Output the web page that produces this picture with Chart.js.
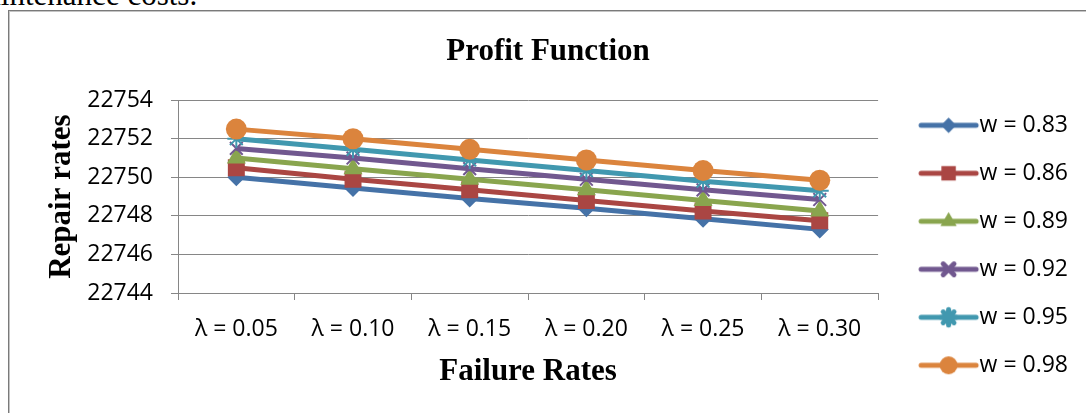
<!DOCTYPE html>
<html>
<head>
<meta charset="utf-8">
<script src="https://cdn.jsdelivr.net/npm/chart.js@4/dist/chart.umd.min.js"></script>
<style>
  html, body { margin:0; padding:0; background:#fff; width:1086px; height:413px; overflow:hidden; }
  #doctext { position:absolute; left:-37px; top:-21px; font-family:"Liberation Serif", serif; font-size:31px; line-height:31px; color:#000; white-space:nowrap; }
  #frame { position:absolute; left:8px; top:10px; width:1200px; height:600px; border:1px solid #7a7a7a; box-shadow: inset 1px 1px 0 #c4c4c4; }
  #wrap { position:absolute; left:0; top:0; width:1086px; height:413px; }
</style>
</head>
<body>
<div id="doctext">maintenance costs.</div>
<div id="frame"></div>
<div id="wrap"><canvas id="chart" width="1086" height="413"></canvas></div>
<script>
// ------------------ DATA ------------------
const categories = ["λ = 0.05", "λ = 0.10", "λ = 0.15", "λ = 0.20", "λ = 0.25", "λ = 0.30"];
const seriesNames = ["w = 0.83", "w = 0.86", "w = 0.89", "w = 0.92", "w = 0.95", "w = 0.98"];
const w083 = [22750.0, 22749.45, 22748.9, 22748.4, 22747.85, 22747.3];
const w086 = [22750.5, 22749.9, 22749.35, 22748.8, 22748.25, 22747.75];
const w089 = [22751.0, 22750.45, 22749.9, 22749.35, 22748.8, 22748.25];
const w092 = [22751.5, 22751.0, 22750.45, 22749.9, 22749.35, 22748.85];
const w095 = [22752.0, 22751.45, 22750.9, 22750.35, 22749.8, 22749.3];
const w098 = [22752.5, 22752.0, 22751.45, 22750.9, 22750.35, 22749.85];
const yMin = 22744, yMax = 22754, yStep = 2;

// ------------------ STYLE ------------------
const colors  = ["#4572A7", "#AA4643", "#89A54E", "#71588F", "#4198AF", "#DB843D"];
const markers = ["rectRot", "rect", "triangle", "crossRot", "star", "circle"];
const radii   = [9, 12, 11, 9, 9, 10.5];
const seriesData = [w083, w086, w089, w092, w095, w098];

const tickFont  = { family: "'Open Sans', sans-serif", size: 23 };
const legFont   = { family: "'Open Sans', sans-serif", size: 23 };
const serifBold = { family: "'Liberation Serif', serif", size: 31, weight: "bold" };
const gridGray = "#868686";

function isCross(s){ return s === "crossRot" || s === "star" || s === "cross"; }

// legend sample: line with the marker on it (image is centred on the legend box)
const LEG_W = 65, LEG_E = 12;
function legendSample(i){
  const c = document.createElement("canvas");
  c.width = LEG_W + 2 * LEG_E; c.height = 26;
  const g = c.getContext("2d");
  const x0 = LEG_W + LEG_E - 47, x1 = LEG_W + LEG_E + 8;
  g.strokeStyle = colors[i]; g.lineWidth = 5; g.lineCap = "round";
  g.beginPath(); g.moveTo(x0, 13); g.lineTo(x1, 13); g.stroke();
  g.fillStyle = colors[i]; g.strokeStyle = colors[i];
  Chart.helpers.drawPoint(g, { pointStyle: markers[i], radius: radii[i] * 0.85, rotation: 0,
    borderWidth: isCross(markers[i]) ? 2 : 0 }, (x0 + x1) / 2, 13);
  return c;
}

const datasets = seriesData.map((d, i) => ({
  label: seriesNames[i],
  data: d,
  borderColor: colors[i],
  backgroundColor: colors[i],
  borderWidth: 5,
  tension: 0,
  pointStyle: markers[i],
  pointRadius: radii[i],
  pointBorderWidth: isCross(markers[i]) ? 2 : 0,
  pointBackgroundColor: colors[i],
  pointBorderColor: colors[i],
  order: seriesData.length - i
}));

const ctx = document.getElementById("chart").getContext("2d");
const chart = new Chart(ctx, {
  type: "line",
  data: { labels: categories, datasets: datasets },
  options: {
    responsive: false,
    animation: false,
    devicePixelRatio: 1,
    layout: { padding: { left: 18, right: 8, top: 0, bottom: 0 } },
    plugins: {
      tooltip: { enabled: false },
      title: {
        display: true, text: "Profit Function", color: "#000", font: serifBold,
        padding: { top: 33, bottom: 30 }
      },
      legend: {
        position: "right",
        title: { display: true, text: " ", font: { size: 18 }, padding: { top: 56, bottom: 0 } },
        labels: {
          usePointStyle: true,
          pointStyleWidth: LEG_W,
          padding: 25,
          color: "#000",
          font: legFont,
          generateLabels: (ch) => ch.data.datasets.map((ds, i) => ({
            text: ds.label, pointStyle: legendSample(i), fillStyle: colors[i],
            strokeStyle: colors[i], fontColor: "#000", lineWidth: 0, datasetIndex: i, hidden: false
          }))
        }
      }
    },
    scales: {
      x: {
        offset: true,
        grid: { offset: true, drawOnChartArea: false, drawTicks: true, tickLength: 7, color: gridGray },
        border: { color: gridGray, width: 1 },
        ticks: { color: "#000", font: tickFont, padding: 16, maxRotation: 0 },
        title: { display: true, text: "Failure Rates", color: "#000", font: serifBold, padding: { top: 0, bottom: 22 } },
        afterFit: (s) => { s.height = 120; }
      },
      y: {
        min: yMin, max: yMax,
        grid: { color: gridGray, lineWidth: 1, tickLength: 7 },
        border: { color: gridGray, width: 1 },
        ticks: { stepSize: yStep, color: "#000", font: tickFont, padding: 18,
          callback: (v) => String(v) },
        title: { display: true, text: "Repair rates", color: "#000", font: serifBold, padding: { top: 25, bottom: 0 } },
        afterFit: (s) => { s.width = 160; }
      }
    }
  }
});
</script>
</body>
</html>
